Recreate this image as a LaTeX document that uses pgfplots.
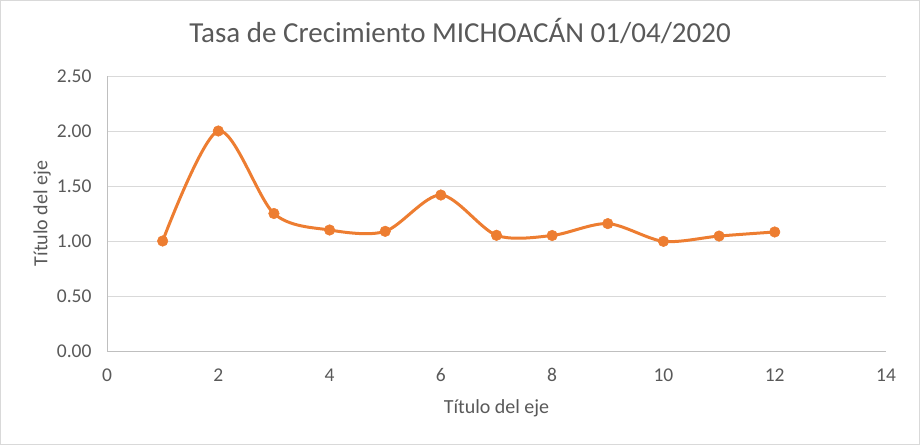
\documentclass[border=0pt]{standalone}
\usepackage{pgfplots}
\pgfplotsset{compat=1.18}
\usepackage{fontspec}
\setmainfont{Carlito}
\definecolor{ser}{HTML}{ED7D31}
\definecolor{txt}{HTML}{595959}
\definecolor{grd}{HTML}{D9D9D9}
\definecolor{axl}{HTML}{BFBFBF}
\begin{document}
\begin{tikzpicture}
\path[use as bounding box] (0pt,0pt) rectangle (920pt,445pt);
\draw[grd, line width=1pt] (0.5pt,0.5pt) rectangle (919.5pt,444.5pt);
\begin{axis}[
  at={(107pt,94pt)}, anchor=south west,
  scale only axis, width=779pt, height=275pt,
  xmin=0, xmax=14, ymin=0, ymax=2.5,
  xtick={0,2,...,14}, ytick={0,0.5,1,1.5,2,2.5},
  ymajorgrids, grid style={grd, line width=1pt},
  axis x line*=bottom, axis y line*=left,
  axis line style={-, axl, line width=1pt},
  major tick length=0,
  /pgf/number format/assume math mode=true,
  tick label style={font=\fontsize{19.5}{23}\selectfont, text=txt},
  yticklabel style={/pgf/number format/fixed, /pgf/number format/fixed zerofill, /pgf/number format/precision=2, xshift=-12pt},
  xticklabel style={yshift=-14pt},
  xlabel={Título del eje}, ylabel={Título del eje},
  label style={font=\fontsize{20}{24}\selectfont, text=txt},
  x label style={at={(axis description cs:0.5,-0.207)}, anchor=center},
  y label style={at={(axis description cs:-0.0834,0.5)}, anchor=center},
  title={Tasa de Crecimiento MICHOACÁN 01/04/2020},
  title style={at={(axis description cs:0.4532,1.142)}, anchor=center, font=\fontsize{29}{34}\selectfont, text=txt},
  clip=false,
]
\addplot[ser, line width=3pt, smooth, tension=0.5, mark=*, mark size=5.3pt,
  mark options={fill=ser, draw=ser, line width=0.5pt}] coordinates {
  (1,1.00) (2,2.00) (3,1.25) (4,1.10) (5,1.088) (6,1.418)
  (7,1.052) (8,1.05) (9,1.158) (10,0.997) (11,1.045) (12,1.082)
};
\end{axis}
\end{tikzpicture}
\end{document}
